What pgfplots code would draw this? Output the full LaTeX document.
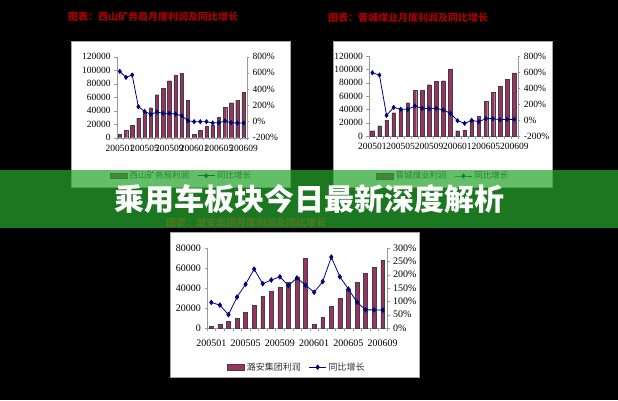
\documentclass[border=0pt]{standalone}
\usepackage{fontspec}
\setmainfont{Liberation Serif}
\newfontfamily\cjk{Noto Sans CJK SC}
\usepackage{pgfplots}
\pgfplotsset{compat=1.18}
\definecolor{barc}{RGB}{153,51,102}
\definecolor{linec}{RGB}{0,0,128}
\definecolor{titc}{RGB}{165,0,0}
\definecolor{bannerc}{RGB}{40,165,46}
\pgfplotsset{
  exbase/.style={
    scale only axis,
    xmin=0.5, xmax=21.5,
    axis line style={gray!80}, tick style={gray!80},
    tick align=outside, major tick length=2.5pt,
    /pgf/number format/assume math mode=true,
    /pgf/number format/fixed,
    /pgf/number format/precision=0,
    /pgf/number format/1000 sep={},
    scaled y ticks=false,
    tick label style={font=\fontsize{9.5}{10}\selectfont, text=black},
  },
  barax/.style={exbase,
    axis y line*=left, axis x line*=bottom,
    xtick={0.5,1.5,...,21.5}, xticklabels={},
    extra x ticks={1,5,9,13,17,21},
    extra x tick labels={200501,200505,200509,200601,200605,200609},
    extra x tick style={major tick length=0pt, xticklabel style={yshift=-4pt}},
    legend style={draw=none, fill=none, legend columns=-1,
      font=\cjk\fontsize{8.5}{9}\selectfont, text=black!80,
      /tikz/every even column/.append style={column sep=6pt}},
  },
  lineax/.style={exbase,
    axis y line*=right, axis x line=none,
    yticklabel={\pgfmathprintnumber{\tick}\%},
  },
  barplot/.style={ybar, fill=barc, draw=black!75, line width=0.3pt, area legend},
  lineplot/.style={linec, line width=0.8pt, mark=diamond*, mark size=2pt, mark options={fill=linec}},
}
\begin{document}
\begin{tikzpicture}[x=1pt,y=1pt]
\useasboundingbox (0pt,0pt) rectangle (618pt,400pt);
\fill[black] (0pt,0pt) rectangle (618pt,400pt);
% panels
\filldraw[fill=white, draw=gray!70, line width=1pt] (71pt,213pt) rectangle (290pt,358pt);
\filldraw[fill=white, draw=gray!70, line width=1pt] (333pt,213pt) rectangle (552pt,358pt);
\filldraw[fill=white, draw=gray!70, line width=1pt] (170pt,23pt) rectangle (419pt,168pt);
% titles
\node[anchor=west, inner sep=0pt, text=titc, font=\cjk\bfseries\fontsize{10}{11}\selectfont] at (68pt,383pt) {图表：西山矿务局月度利润及同比增长};
\node[anchor=west, inner sep=0pt, text=titc, font=\cjk\bfseries\fontsize{10}{11}\selectfont] at (328pt,382pt) {图表：晋城煤业月度利润及同比增长};
\node[anchor=west, inner sep=0pt, text=titc, font=\cjk\bfseries\fontsize{10}{11}\selectfont] at (166pt,177pt) {图表：潞安集团月度利润及同比增长};

% ---------- chart 1 ----------
\begin{axis}[barax, at={(116.7pt,262.3pt)}, anchor=south west, width=130pt, height=81pt,
  ymin=0, ymax=120000, ytick={0,20000,...,120000},
  legend style={at={(0.5,-0.47)}, anchor=center}]
\addplot[barplot, bar width=0.55] coordinates {
(1,5400)(2,11400)(3,18300)(4,29000)(5,38000)(6,44400)(7,63700)(8,73600)(9,84400)(10,92300)(11,95800)
(12,55800)(13,5400)(14,11400)(15,17500)(16,19000)(17,30000)(18,45000)(19,51800)(20,55300)(21,67600)};
\addlegendentry{西山矿务局利润}
\addlegendimage{line legend, lineplot}
\addlegendentry{同比增长}
\end{axis}
\begin{axis}[lineax, at={(116.7pt,262.3pt)}, anchor=south west, width=130pt, height=81pt,
  ymin=-200, ymax=800, ytick={-200,0,...,800}]
\addplot[lineplot] coordinates {
(1,619)(2,545)(3,574)(4,183)(5,125)(6,88)(7,117)(8,100)(9,100)(10,92)(11,70)
(12,10)(13,-2)(14,-2)(15,-2)(16,-18)(17,-15)(18,6)(19,-15)(20,-19)(21,-19)};
\end{axis}

% ---------- chart 2 ----------
\begin{axis}[barax, at={(368.8pt,264pt)}, anchor=south west, width=149pt, height=80pt,
  ymin=0, ymax=120000, ytick={0,20000,...,120000},
  legend style={at={(0.5,-0.5)}, anchor=center}]
\addplot[barplot, bar width=0.5] coordinates {
(1,8000)(2,15500)(3,24000)(4,35000)(5,41000)(6,50000)(7,68500)(8,68500)(9,77000)(10,82000)(11,83000)
(12,100500)(13,8000)(14,9000)(15,24000)(16,30000)(17,52500)(18,66000)(19,75000)(20,85500)(21,94500)};
\addlegendentry{晋城煤业利润}
\addlegendimage{line legend, lineplot}
\addlegendentry{同比增长}
\end{axis}
\begin{axis}[lineax, at={(368.8pt,264pt)}, anchor=south west, width=149pt, height=80pt,
  ymin=-200, ymax=800, ytick={-200,0,...,800}]
\addplot[lineplot] coordinates {
(1,590)(2,562)(3,58)(4,158)(5,135)(6,133)(7,175)(8,146)(9,142)(10,146)(11,125)
(12,83)(13,-8)(14,-42)(15,-4)(16,-21)(17,17)(18,17)(19,4)(20,8)(21,8)};
\end{axis}

% ---------- chart 3 ----------
\begin{axis}[barax, at={(207pt,72pt)}, anchor=south west, width=180pt, height=80pt,
  ymin=0, ymax=80000, ytick={0,20000,...,80000},
  tick label style={font=\fontsize{10}{11}\selectfont},
  extra x tick style={major tick length=0pt, xticklabel style={yshift=-4pt}},
  legend style={at={(0.5,-0.49)}, anchor=center, font=\cjk\fontsize{9}{10}\selectfont}]
\addplot[barplot, bar width=0.45] coordinates {
(1,1700)(2,4000)(3,6400)(4,10000)(5,15500)(6,23000)(7,32000)(8,36500)(9,40500)(10,45500)(11,50500)
(12,69500)(13,4000)(14,11000)(15,22000)(16,30000)(17,39000)(18,46000)(19,54500)(20,61000)(21,67500)};
\addlegendentry{潞安集团利润}
\addlegendimage{line legend, lineplot, mark size=2.2pt}
\addlegendentry{同比增长}
\end{axis}
\begin{axis}[lineax, at={(207pt,72pt)}, anchor=south west, width=180pt, height=80pt,
  tick label style={font=\fontsize{10}{11}\selectfont},
  ymin=0, ymax=300, ytick={0,50,...,300}]
\addplot[lineplot, mark size=2.2pt] coordinates {
(1,96)(2,86)(3,50)(4,116)(5,164)(6,221)(7,166)(8,180)(9,192)(10,159)(11,188)
(12,160)(13,134)(14,174)(15,266)(16,192)(17,146)(18,97)(19,68)(20,68)(21,67)};
\end{axis}

% ---------- banner ----------
\fill[bannerc, opacity=0.72] (0pt,172pt) rectangle (618pt,230pt);
\node[text=white, font=\cjk\bfseries\fontsize{30}{32}\selectfont] at (309pt,201pt) {乘用车板块今日最新深度解析};
\end{tikzpicture}
\end{document}
